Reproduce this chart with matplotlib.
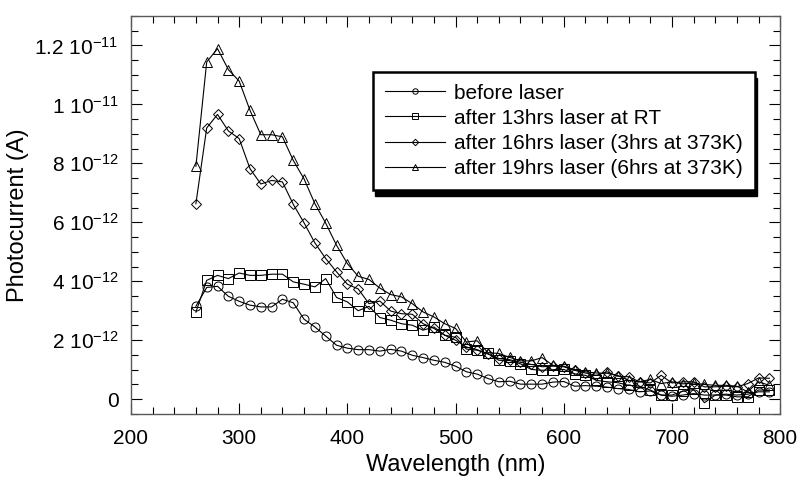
import matplotlib
matplotlib.use("Agg")
import matplotlib.pyplot as plt
import matplotlib.ticker as ticker
from matplotlib.patches import Rectangle
from matplotlib.transforms import IdentityTransform
import numpy as np

plt.rcParams.update({
    "font.family": ["Liberation Sans", "DejaVu Sans"],
    "font.size": 15,
    "mathtext.fontset": "custom",
    "mathtext.rm": "Liberation Sans",
    "mathtext.it": "Liberation Sans",
})

# ── Data (photocurrent in units of 1e-12 A) ───────────────
wavelength = list(range(260, 800, 10))

before_laser = [
    3.15, 3.79, 3.83, 3.49, 3.32, 3.19, 3.13, 3.13, 3.39, 3.27,
    2.71, 2.45, 2.14, 1.83, 1.73, 1.68, 1.68, 1.63, 1.69, 1.63,
    1.49, 1.41, 1.32, 1.25, 1.12, 0.93, 0.85, 0.70, 0.59, 0.61,
    0.51, 0.51, 0.51, 0.58, 0.60, 0.44, 0.46, 0.44, 0.41, 0.36,
    0.33, 0.25, 0.28, 0.14, 0.10, 0.14, 0.19, 0.14, 0.14, 0.17,
    0.14, 0.17, 0.25, 0.25,
]
after_13h_rt = [
    2.95, 4.03, 4.20, 4.09, 4.28, 4.20, 4.20, 4.24, 4.24, 3.98,
    3.90, 3.81, 4.09, 3.45, 3.30, 3.00, 3.15, 2.77, 2.68, 2.56,
    2.51, 2.34, 2.45, 2.17, 2.10, 1.70, 1.66, 1.55, 1.32, 1.31,
    1.20, 1.01, 0.98, 1.00, 1.01, 0.86, 0.81, 0.64, 0.59, 0.56,
    0.47, 0.44, 0.31, 0.14, 0.14, 0.27, 0.33, -0.12, 0.14, 0.14,
    0.08, 0.08, 0.31, 0.31,
]
after_16h_3h373 = [
    6.63, 9.20, 9.66, 9.10, 8.84, 7.82, 7.30, 7.42, 7.37, 6.61,
    5.98, 5.30, 4.77, 4.32, 3.90, 3.74, 3.24, 3.33, 2.99, 2.90,
    2.88, 2.56, 2.40, 2.17, 2.00, 1.77, 1.68, 1.53, 1.38, 1.34,
    1.25, 1.18, 1.10, 1.12, 1.10, 0.98, 0.89, 0.81, 0.93, 0.78,
    0.76, 0.59, 0.55, 0.81, 0.55, 0.59, 0.59, 0.42, 0.42, 0.44,
    0.42, 0.53, 0.72, 0.71,
]
after_19h_6h373 = [
    7.90, 11.44, 11.89, 11.18, 10.79, 9.80, 8.97, 8.97, 8.90, 8.10,
    7.47, 6.63, 5.97, 5.22, 4.60, 4.17, 4.06, 3.77, 3.55, 3.47,
    3.24, 2.96, 2.79, 2.56, 2.40, 1.94, 1.98, 1.58, 1.55, 1.42,
    1.30, 1.30, 1.41, 1.15, 1.12, 1.00, 0.93, 0.89, 0.88, 0.80,
    0.64, 0.59, 0.67, 0.53, 0.59, 0.52, 0.55, 0.50, 0.47, 0.47,
    0.44, 0.25, 0.59, 0.47,
]

labels = [
    "before laser",
    "after 13hrs laser at RT",
    "after 16hrs laser (3hrs at 373K)",
    "after 19hrs laser (6hrs at 373K)",
]
markers = ["o", "s", "D", "^"]

ytick_vals = [0, 2e-12, 4e-12, 6e-12, 8e-12, 1e-11, 1.2e-11]
ytick_labels = ["0", "2 10$^{-12}$", "4 10$^{-12}$", "6 10$^{-12}$",
                "8 10$^{-12}$", "1 10$^{-11}$", "1.2 10$^{-11}$"]

# ── Figure ────────────────────────────────────────────────
fig, ax = plt.subplots(figsize=(8.01, 4.83), dpi=100)
fig.subplots_adjust(left=0.1635, right=0.974, top=0.967, bottom=0.143)

series = [before_laser, after_13h_rt, after_16h_3h373, after_19h_6h373]
wl = np.array(wavelength)
for vals, lab, mk in zip(series, labels, markers):
    ms = 5.5 if mk == "D" else 6.5
    ax.plot(wl, np.array(vals) * 1e-12, color="black", linewidth=0.8,
            marker=mk, markersize=ms, markerfacecolor="none",
            markeredgecolor="black", markeredgewidth=0.7, label=lab)

ax.set_xlim(200, 800)
ax.set_ylim(-0.5e-12, 13e-12)
ax.xaxis.set_major_locator(ticker.MultipleLocator(100))
ax.xaxis.set_minor_locator(ticker.MultipleLocator(20))
ax.set_yticks(ytick_vals)
ax.set_yticklabels(ytick_labels)
ax.yaxis.set_minor_locator(ticker.MultipleLocator(0.5e-12))

ax.tick_params(which="both", direction="in", top=True, right=True,
               labelsize=15, color="black")
ax.tick_params(which="major", length=8, width=0.8)
ax.tick_params(axis="x", which="major", pad=11)
ax.tick_params(axis="y", which="major", pad=9)
ax.tick_params(which="minor", length=5, width=0.8)
for sp in ax.spines.values():
    sp.set_color("0.35")
    sp.set_linewidth(1.0)

ax.set_xlabel("Wavelength (nm)", fontsize=17, labelpad=4)
ax.set_ylabel("Photocurrent (A)", fontsize=17, labelpad=4)

leg = ax.legend(loc="upper left", bbox_to_anchor=(0.373, 0.859),
                borderaxespad=0, fontsize=15, frameon=True, fancybox=False,
                framealpha=1, handlelength=2.9, markerscale=0.6,
                labelspacing=0.3, borderpad=0.55, handletextpad=0.45)
leg.get_frame().set_edgecolor("black")
leg.get_frame().set_facecolor("white")
leg.get_frame().set_linewidth(1.8)
leg.set_zorder(6)

# hard black drop shadow under the legend box
fig.canvas.draw()
bb = leg.get_frame().get_window_extent()
ax.add_patch(Rectangle((bb.x0 + 2, bb.y0 - 6), bb.width, bb.height,
                       transform=IdentityTransform(), facecolor="black",
                       edgecolor="black", clip_on=False, zorder=5.5))

plt.savefig("out.png", dpi=100)
plt.close()
